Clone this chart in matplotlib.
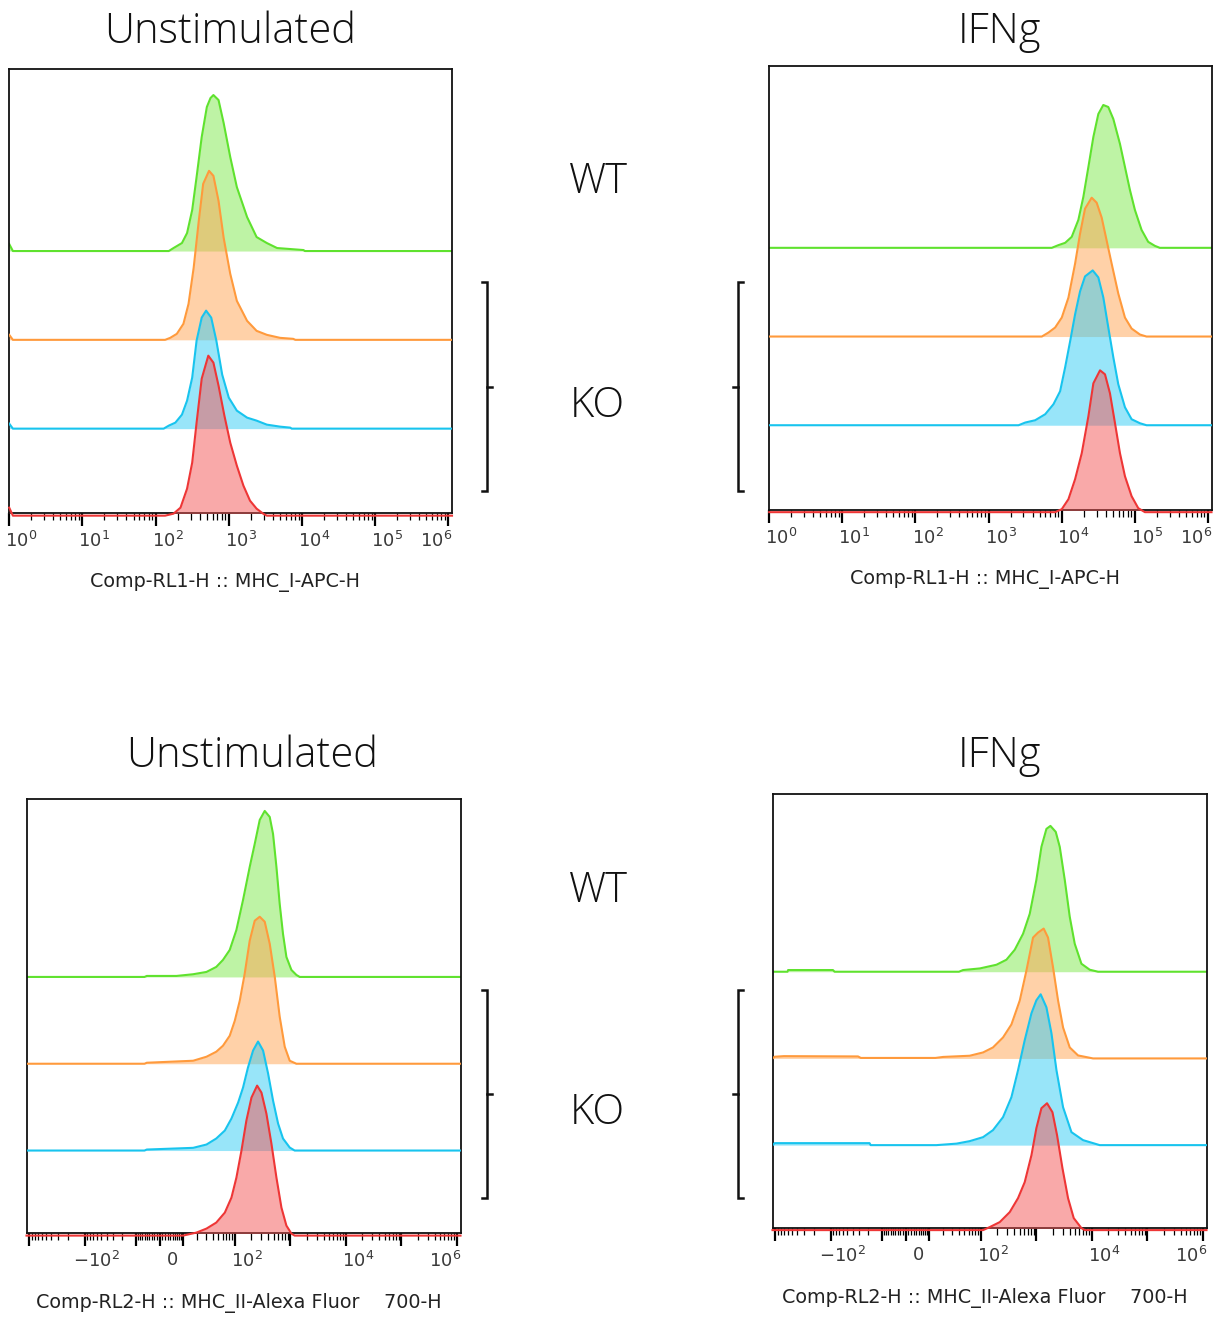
import numpy as np
import matplotlib
matplotlib.use("Agg")
import matplotlib.pyplot as plt
from matplotlib.ticker import FixedLocator, NullFormatter
from matplotlib.transforms import ScaledTranslation
from matplotlib.lines import Line2D

# ------------------------------------------------------------------
# DATA
# order of samples in every panel: WT (green), KO (orange), KO (blue), KO (red)
# ------------------------------------------------------------------
# MHC I - Unstimulated : log10 intensity / cell count
mhc1_unstim_green_log = [0.0, 0.05, 2.18, 2.245, 2.36, 2.43, 2.50, 2.56, 2.63, 2.70, 2.75, 2.79, 2.86, 2.93, 3.02, 3.11, 3.25, 3.38, 3.52, 3.66, 4.02, 4.04, 6.05]
mhc1_unstim_green_cnt = [7, 0, 0, 3, 8, 18, 41, 74, 114, 144, 153, 156, 151, 128, 94, 64, 34, 14, 8, 3, 1, 0, 0]
mhc1_unstim_orange_log = [0.0, 0.05, 2.13, 2.20, 2.29, 2.38, 2.45, 2.52, 2.59, 2.65, 2.73, 2.79, 2.86, 2.93, 3.02, 3.11, 3.25, 3.38, 3.52, 3.70, 3.88, 3.91, 6.05]
mhc1_unstim_orange_cnt = [5, 0, 0, 2, 6, 16, 36, 72, 119, 156, 169, 164, 139, 102, 66, 39, 19, 9, 5, 2, 1, 0, 0]
mhc1_unstim_blue_log = [0.0, 0.05, 2.11, 2.18, 2.27, 2.36, 2.43, 2.50, 2.56, 2.63, 2.69, 2.76, 2.83, 2.91, 3.00, 3.11, 3.25, 3.38, 3.52, 3.70, 3.84, 3.86, 6.05]
mhc1_unstim_blue_cnt = [5, 0, 0, 3, 6, 14, 28, 51, 88, 111, 118, 111, 88, 54, 31, 18, 11, 8, 4, 2, 1, 0, 0]
mhc1_unstim_red_log = [0.0, 0.05, 2.13, 2.245, 2.34, 2.43, 2.50, 2.56, 2.63, 2.72, 2.79, 2.86, 2.94, 3.02, 3.11, 3.20, 3.29, 3.38, 3.47, 3.52, 6.05]
mhc1_unstim_red_cnt = [8, 0, 0, 2, 8, 27, 53, 93, 137, 160, 153, 130, 100, 73, 50, 30, 15, 7, 2, 0, 0]

# MHC I - IFNg
mhc1_ifng_green_log = [0.0, 3.865, 3.956, 4.048, 4.138, 4.229, 4.297, 4.366, 4.434, 4.502, 4.570, 4.638, 4.707, 4.798, 4.866, 4.934, 5.002, 5.093, 5.184, 5.275, 5.343, 6.05]
mhc1_ifng_green_cnt = [0, 0, 2.7, 5, 11, 28, 51, 81, 111, 134, 143, 141, 129, 104, 81, 58, 38, 18, 6, 2, 0, 0]
mhc1_ifng_orange_log = [0.0, 3.729, 3.820, 3.911, 4.002, 4.093, 4.184, 4.252, 4.320, 4.411, 4.479, 4.548, 4.616, 4.684, 4.775, 4.866, 4.957, 5.071, 5.161, 6.05]
mhc1_ifng_orange_cnt = [0, 0, 4, 9, 19, 39, 73, 103, 128, 139, 134, 119, 96, 73, 43, 19, 8, 2, 0, 0]
mhc1_ifng_blue_log = [0.0, 3.411, 3.502, 3.638, 3.775, 3.888, 3.979, 4.048, 4.116, 4.184, 4.252, 4.320, 4.425, 4.502, 4.570, 4.638, 4.707, 4.775, 4.866, 4.957, 5.071, 5.161, 6.05]
mhc1_ifng_blue_cnt = [0, 0, 2.7, 5, 11, 21, 34, 58, 84, 111, 134, 149, 155, 148, 128, 98, 68, 41, 18, 6, 2, 0, 0]
mhc1_ifng_red_log = [0.0, 3.911, 4.002, 4.093, 4.184, 4.275, 4.366, 4.434, 4.525, 4.593, 4.661, 4.730, 4.798, 4.866, 4.957, 5.048, 5.139, 6.05]
mhc1_ifng_red_cnt = [0, 0, 3, 13, 33, 59, 96, 129, 142, 138, 119, 89, 59, 36, 16, 4, 0, 0]

# MHC II - Unstimulated : intensity (biexponential axis) / cell count
mhc2_unstim_green_x = [-1120, -6, -5, 6.7, 16.7, 30.3, 46, 61, 81, 107, 141, 186, 229, 282, 347, 427, 490, 564, 646, 741, 853, 1050, 1291, 1483, 1.17e6]
mhc2_unstim_green_cnt = [0, 0, 1, 1, 2.7, 5, 10, 17, 27, 47, 77, 110, 133, 157, 166, 160, 143, 110, 73, 43, 20, 7, 2, 0, 0]
mhc2_unstim_orange_x = [-1120, -6, -5, 16.7, 30.3, 46, 61, 81, 100, 123, 151, 186, 229, 282, 347, 427, 526, 646, 796, 979, 1291, 1.17e6]
mhc2_unstim_orange_cnt = [0, 0, 1, 3, 7, 12, 18, 28, 43, 63, 90, 123, 143, 147, 142, 120, 87, 47, 17, 3, 0, 0]
mhc2_unstim_blue_x = [-1120, -6, -5, 16.7, 30.3, 46, 66, 87, 115, 141, 173, 214, 263, 324, 399, 490, 604, 741, 979, 1202, 1.17e6]
mhc2_unstim_blue_cnt = [0, 0, 1, 2.7, 6, 12, 20, 32, 48, 63, 83, 100, 109, 100, 77, 50, 27, 12, 3, 0, 0]
mhc2_unstim_red_x = [-1120, 10, 19.4, 30.3, 46, 66, 87, 107, 132, 162, 200, 253, 303, 372, 458, 564, 694, 853, 1050, 1202, 1.17e6]
mhc2_unstim_red_cnt = [0, 0, 3, 7, 13, 23, 38, 58, 85, 115, 138, 150, 143, 122, 92, 58, 28, 10, 2, 0, 0]

# MHC II - IFNg
mhc2_ifng_green_x = [-1120, -600, -586, -91, -85, 40, 47.6, 96, 192, 290, 410, 579, 764, 1006, 1240, 1526, 1802, 2248, 2654, 3266, 4017, 4942, 6520, 9210, 13010, 1.17e6]
mhc2_ifng_green_cnt = [0, 0, 1.7, 1.7, 0, 0, 1.7, 3.3, 7, 12, 22, 38, 58, 92, 125, 143, 146, 140, 125, 92, 55, 28, 8, 2, 0, 0]
mhc2_ifng_orange_x = [-1120, -1022, -700, -31.6, -28, 14, 20, 63, 110, 166, 252, 357, 505, 666, 876, 1077, 1362, 1632, 2010, 2474, 3044, 4017, 5670, 10570, 1.17e6]
mhc2_ifng_orange_cnt = [0, 1.7, 2.3, 2, 0.5, 0.5, 1.5, 2.7, 6, 11, 21, 34, 58, 88, 121, 126, 130, 121, 91, 58, 31, 11, 3, 0, 0]
mhc2_ifng_blue_x = [-1120, -1022, -19, -18, 14.6, 36, 63, 110, 166, 252, 357, 470, 620, 820, 1006, 1202, 1526, 1880, 2315, 3044, 4310, 6975, 10570, 13950, 1.17e6]
mhc2_ifng_blue_cnt = [0, 2, 2, 0, 0, 1.5, 4, 8, 15, 28, 48, 75, 105, 132, 145, 151, 138, 112, 75, 38, 13, 5, 2, 0, 0]
mhc2_ifng_red_x = [-1120, 110, 145, 220, 333, 470, 620, 820, 1006, 1240, 1566, 1960, 2373, 2968, 3743, 4740, 6520, 7481, 1.17e6]
mhc2_ifng_red_cnt = [0, 0, 3, 8, 18, 32, 48, 75, 102, 122, 127, 118, 95, 62, 32, 12, 2, 0, 0]

condition_titles = ["Unstimulated", "IFNg", "Unstimulated", "IFNg"]
axis_labels = ["Comp-RL1-H :: MHC_I-APC-H", "Comp-RL1-H :: MHC_I-APC-H",
               "Comp-RL2-H :: MHC_II-Alexa Fluor    700-H", "Comp-RL2-H :: MHC_II-Alexa Fluor    700-H"]
log_ticks = [1, 10, 100, 1e3, 1e4, 1e5, 1e6]
log_ticklabels = ["$10^{0}$", "$10^{1}$", "$10^{2}$", "$10^{3}$", "$10^{4}$", "$10^{5}$", "$10^{6}$"]
biex_ticks = [-1000, -100, -10, 0, 10, 100, 1e3, 1e4, 1e5, 1e6]
biex_ticklabels = ["", "$-10^{2}$", "", "$0$", "", "$10^{2}$", "", "$10^{4}$", "", "$10^{6}$"]

# ------------------------------------------------------------------
# STYLE
# ------------------------------------------------------------------
W, H = 1218, 1325
FILLS = ["#7FE84D", "#FFA552", "#33CCF5", "#F55555"]
LINES = ["#5FE22E", "#FF9A3C", "#18C4EE", "#EE3636"]
OFFSETS = [0.59, 0.39, 0.19, -0.006]
TEXT_FONT = dict(family=["Open Sans", "DejaVu Sans"], fontsize=30, weight="light", color="#111111")

fig = plt.figure(figsize=(W / 100, H / 100), dpi=100)


def rect(l, t, r, b):
    return [l / W, 1 - b / H, (r - l) / W, (b - t) / H]


panels = [
    dict(box=(8.5, 69, 452, 513), kind="log", ymax=444,
         curves=[(10 ** np.array(mhc1_unstim_green_log), mhc1_unstim_green_cnt),
                 (10 ** np.array(mhc1_unstim_orange_log), mhc1_unstim_orange_cnt),
                 (10 ** np.array(mhc1_unstim_blue_log), mhc1_unstim_blue_cnt),
                 (10 ** np.array(mhc1_unstim_red_log), mhc1_unstim_red_cnt)]),
    dict(box=(768.5, 66, 1211.5, 509.5), kind="log", ymax=444,
         curves=[(10 ** np.array(mhc1_ifng_green_log), mhc1_ifng_green_cnt),
                 (10 ** np.array(mhc1_ifng_orange_log), mhc1_ifng_orange_cnt),
                 (10 ** np.array(mhc1_ifng_blue_log), mhc1_ifng_blue_cnt),
                 (10 ** np.array(mhc1_ifng_red_log), mhc1_ifng_red_cnt)]),
    dict(box=(26.5, 799, 460.5, 1233), kind="biex", ymax=434,
         curves=[(mhc2_unstim_green_x, mhc2_unstim_green_cnt),
                 (mhc2_unstim_orange_x, mhc2_unstim_orange_cnt),
                 (mhc2_unstim_blue_x, mhc2_unstim_blue_cnt),
                 (mhc2_unstim_red_x, mhc2_unstim_red_cnt)]),
    dict(box=(772.5, 794, 1206.5, 1227.5), kind="biex", ymax=434,
         curves=[(mhc2_ifng_green_x, mhc2_ifng_green_cnt),
                 (mhc2_ifng_orange_x, mhc2_ifng_orange_cnt),
                 (mhc2_ifng_blue_x, mhc2_ifng_blue_cnt),
                 (mhc2_ifng_red_x, mhc2_ifng_red_cnt)]),
]

title_pos = [(230, 43), (1000, 43), (252, 767), (1000, 767)]

for p, title, xl, tpos in zip(panels, condition_titles, axis_labels, title_pos):
    l, t, r, b = p["box"]
    ax = fig.add_axes(rect(l, t, r, b))
    ymax = p["ymax"]
    for i, (x, c) in enumerate(p["curves"]):
        x = np.asarray(x, dtype=float)
        base = OFFSETS[i] * ymax
        y = base + np.asarray(c, dtype=float)
        ax.fill_between(x, base, y, color=FILLS[i], alpha=0.5, lw=0, zorder=2 + i)
        ax.plot(x, y, color=LINES[i], lw=1.5, zorder=2.5 + i, clip_on=(i < 3),
                solid_joinstyle="round")
    ax.set_ylim(0, ymax)
    if p["kind"] == "log":
        ax.set_xscale("log")
        ax.set_xlim(10 ** -0.01, 10 ** 6.05)
        ax.xaxis.set_major_locator(FixedLocator(log_ticks))
        ax.set_xticklabels(log_ticklabels)
        minors = [k * 10 ** n for n in range(0, 6) for k in range(2, 10)]
        ax.xaxis.set_minor_locator(FixedLocator(minors))
    else:
        ax.set_xscale("asinh", linear_width=8.9)
        ax.set_xlim(-1120, 1.17e6)
        ax.xaxis.set_major_locator(FixedLocator(biex_ticks))
        ax.set_xticklabels(biex_ticklabels)
        minors = ([-k * 10 ** n for n in range(1, 3) for k in range(2, 10)]
                  + [-k for k in range(1, 10)] + [k for k in range(1, 10)]
                  + [k * 10 ** n for n in range(1, 6) for k in range(2, 10)])
        ax.xaxis.set_minor_locator(FixedLocator(minors))
    ax.xaxis.set_minor_formatter(NullFormatter())
    ax.tick_params(axis="x", which="major", direction="out", length=9, width=1.6,
                   pad=4, labelsize=13, labelcolor="#3a3a3a", color="black")
    ax.tick_params(axis="x", which="minor", direction="out", length=5, width=0.9, color="black")
    ax.tick_params(axis="y", left=False, labelleft=False)
    ax.tick_params(axis="x", top=False)
    for s in ax.spines.values():
        s.set_linewidth(1.3)
        s.set_color("#111111")
    # FlowJo-style label placement: labels sit just right of their tick, last one left
    labels = [lb for lb in ax.xaxis.get_majorticklabels()]
    nonempty = [lb for lb in labels if lb.get_text()]
    for j, lb in enumerate(nonempty):
        dx = -0.12 if j == len(nonempty) - 1 else 0.12
        lb.set_transform(lb.get_transform() + ScaledTranslation(dx, 0, fig.dpi_scale_trans))
    hpx = b - t
    ax.text(0.5 - 5 / (r - l), -70 / hpx, xl, transform=ax.transAxes, ha="center",
            va="center", fontsize=13.8, color="#222222")
    fig.text(tpos[0] / W, 1 - tpos[1] / H, title, ha="center", va="baseline", **TEXT_FONT)

# group labels
for (txt, x, y) in [("WT", 598, 193), ("KO", 597, 417), ("WT", 598, 902), ("KO", 597, 1124)]:
    fig.text(x / W, 1 - y / H, txt, ha="center", va="baseline", **TEXT_FONT)


def line(xs, ys):
    fig.add_artist(Line2D([x / W for x in xs], [1 - y / H for y in ys], color="#111111",
                          lw=1.8, solid_joinstyle="miter"))


for (top, bot) in [(282, 491), (990, 1198)]:
    mid = (top + bot) / 2
    line([482, 487, 487, 482], [top, top, bot, bot])
    line([487, 492], [mid, mid])
    line([743, 738, 738, 743], [top, top, bot, bot])
    line([738, 733], [mid, mid])

fig.savefig("out.png", dpi=100)
